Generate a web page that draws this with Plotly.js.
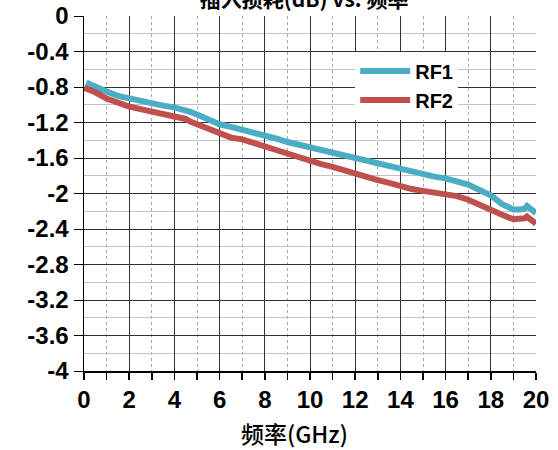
<!DOCTYPE html>
<html>
<head>
<meta charset="utf-8">
<script src="https://cdn.plot.ly/plotly-3.0.1.min.js"></script>
<style>html,body{margin:0;padding:0;background:#fff;}#chart{width:558px;height:450px;}</style>
</head>
<body>
<div id="chart"></div>
<script>
const chartTitle = "插入损耗(dB) vs. 频率";
const xTitle = "频率(GHz)";
const seriesNames = ["RF1", "RF2"];

const freqRF1 = [0.1, 0.5, 1, 1.5, 2, 2.5, 3, 3.5, 4, 4.5, 4.7, 5, 5.5, 6, 6.5, 7, 7.5, 8, 8.5, 9, 9.5, 10, 10.5, 11, 11.5, 12, 12.5, 13, 13.5, 14, 14.5, 15, 15.5, 16, 16.5, 17, 17.5, 18, 18.5, 19, 19.3, 19.5, 19.6, 19.8, 20];
const lossRF1 = [-0.75, -0.80, -0.85, -0.90, -0.93, -0.96, -0.99, -1.01, -1.03, -1.06, -1.08, -1.11, -1.17, -1.22, -1.25, -1.28, -1.31, -1.35, -1.38, -1.42, -1.45, -1.48, -1.51, -1.54, -1.57, -1.60, -1.64, -1.67, -1.70, -1.73, -1.76, -1.78, -1.81, -1.83, -1.86, -1.90, -1.96, -2.02, -2.12, -2.18, -2.18, -2.17, -2.14, -2.19, -2.22];

const freqRF2 = [0, 0.5, 1, 1.5, 2, 2.5, 3, 3.5, 4, 4.5, 4.7, 5, 5.5, 5.7, 6, 6.5, 7, 7.3, 7.6, 8, 8.5, 9, 9.5, 10, 10.5, 11, 11.5, 12, 12.5, 13, 13.5, 14, 14.5, 15, 15.5, 16, 16.5, 17, 17.5, 18, 18.5, 19, 19.3, 19.5, 19.6, 19.8, 20];
const lossRF2 = [-0.81, -0.86, -0.93, -0.98, -1.02, -1.05, -1.08, -1.10, -1.13, -1.16, -1.19, -1.22, -1.27, -1.29, -1.32, -1.37, -1.39, -1.41, -1.43, -1.47, -1.51, -1.55, -1.60, -1.64, -1.67, -1.70, -1.74, -1.77, -1.81, -1.85, -1.88, -1.92, -1.95, -1.97, -1.99, -2.00, -2.03, -2.07, -2.13, -2.19, -2.24, -2.29, -2.29, -2.28, -2.26, -2.30, -2.34];

const yTickVals = [0, -0.4, -0.8, -1.2, -1.6, -2, -2.4, -2.8, -3.2, -3.6, -4];
const yTickText = ["0", "-0.4", "-0.8", "-1.2", "-1.6", "-2", "-2.4", "-2.8", "-3.2", "-3.6", "-4"];
const yMinorVals = [-0.2, -0.6, -1.0, -1.4, -1.8, -2.2, -2.6, -3.0, -3.4, -3.8];
const xTickVals = [0, 2, 4, 6, 8, 10, 12, 14, 16, 18, 20];
const xMinorVals = [1, 3, 5, 7, 9, 11, 13, 15, 17, 19];

const colors = ["#4BACC6", "#C0504D"];
const fontFam = "Liberation Sans, Arial, Noto Sans CJK SC, sans-serif";
const cjkFam = "Noto Sans CJK SC, Liberation Sans, Arial, sans-serif";

const traces = [
  {x: freqRF1, y: lossRF1, name: seriesNames[0], type: "scatter", mode: "lines",
   line: {color: colors[0], width: 6}},
  {x: freqRF2, y: lossRF2, name: seriesNames[1], type: "scatter", mode: "lines",
   line: {color: colors[1], width: 6}}
];

const layout = {
  width: 558, height: 450,
  margin: {l: 84, r: 22, t: 16, b: 79},
  paper_bgcolor: "#fff", plot_bgcolor: "#fff",
  title: {text: chartTitle, font: {family: cjkFam, size: 21, color: "#000", weight: "bold"},
          x: 0.545, xanchor: "center", yref: "container", y: 1.0, yanchor: "middle"},
  xaxis: {
    range: [0, 20], tickmode: "array", tickvals: xTickVals,
    ticks: "outside", ticklen: 7, tickcolor: "#000", tickwidth: 1.5,
    showline: true, linecolor: "#000", linewidth: 1.5,
    showgrid: true, gridcolor: "#303030", gridwidth: 1,
    zeroline: false,
    tickfont: {family: fontFam, size: 24, color: "#000", weight: "bold"},
    minor: {tickmode: "array", tickvals: xMinorVals, ticks: "outside", ticklen: 7, tickcolor: "#000",
            showgrid: true, gridcolor: "#a6a6a6", griddash: "dot", gridwidth: 1}
  },
  yaxis: {
    range: [-4, 0], tickmode: "array", tickvals: yTickVals, ticktext: yTickText,
    ticks: "outside", ticklen: 9, tickcolor: "#000", tickwidth: 1,
    showline: true, linecolor: "#000", linewidth: 1.5,
    showgrid: true, gridcolor: "#303030", gridwidth: 1,
    zeroline: false,
    tickfont: {family: fontFam, size: 24, color: "#000", weight: "bold"},
    minor: {tickmode: "array", tickvals: yMinorVals, ticks: "", showgrid: true, gridcolor: "#c4c4c4", gridwidth: 1}
  },
  annotations: [
    {text: xTitle, xref: "paper", yref: "paper", x: 0.465, y: -0.175, xanchor: "center", yanchor: "middle",
     showarrow: false, font: {family: cjkFam, size: 23, color: "#000", weight: 500}}
  ],
  showlegend: true,
  legend: {x: 0.6, y: 0.9, xanchor: "left", yanchor: "top", bgcolor: "#fff",
           font: {family: fontFam, size: 20, color: "#000", weight: "bold"},
           itemwidth: 50, tracegroupgap: 0},
};

Plotly.newPlot("chart", traces, layout, {displayModeBar: false, staticPlot: true});
</script>
</body>
</html>
